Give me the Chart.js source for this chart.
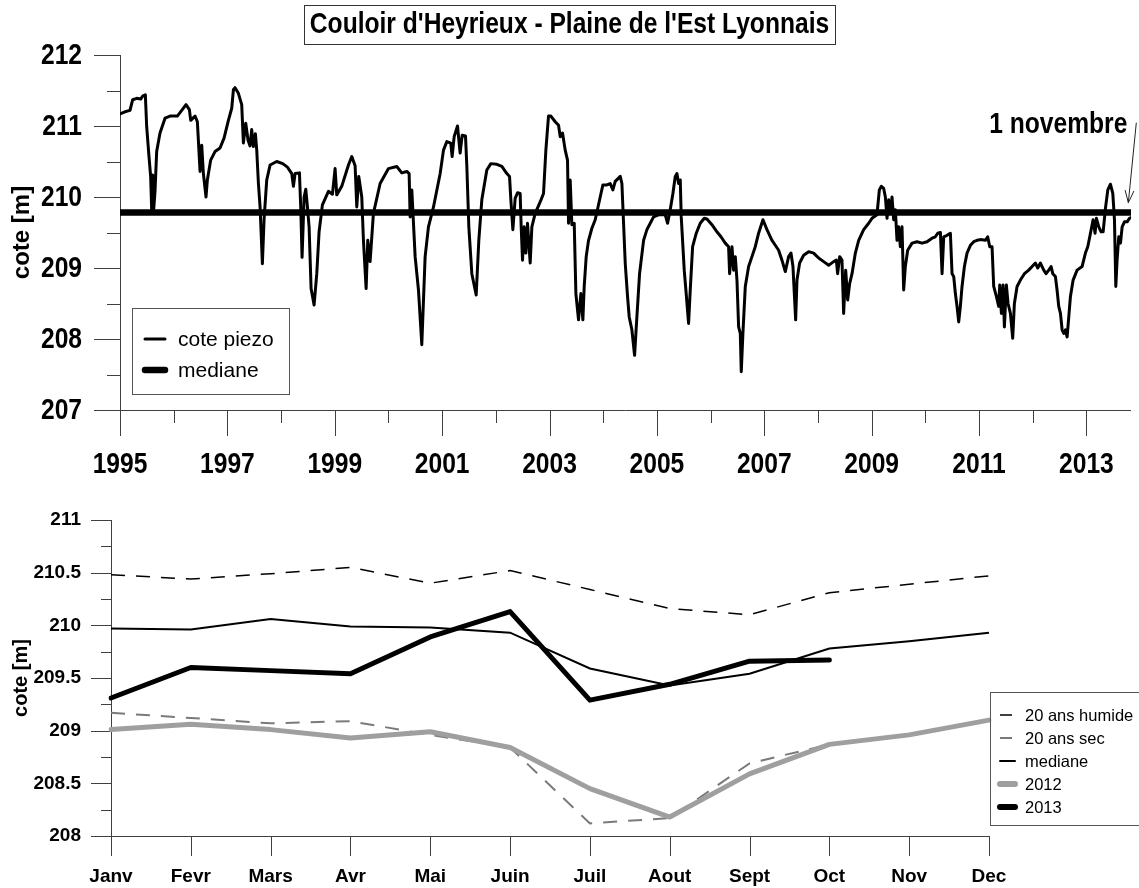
<!DOCTYPE html>
<html><head><meta charset="utf-8">
<script src="https://cdn.jsdelivr.net/npm/chart.js@4.4.1/dist/chart.umd.min.js"></script>
<style>
html,body{margin:0;padding:0;background:#fff;}
#wrap{position:relative;width:1139px;height:888px;overflow:hidden;background:#fff}
#c1{position:absolute;left:0;top:0}
#c2{position:absolute;left:0;top:490px}
</style></head><body>
<div id="wrap"><canvas id="c1" width="1139" height="490"></canvas><canvas id="c2" width="1139" height="398"></canvas></div>
<script>
// ---------------- DATA ----------------
const chartTitle = "Couloir d'Heyrieux - Plaine de l'Est Lyonnais";
const firstDate = 1995;
const lastDate = 2013.83;          // 1 novembre 2013
const medianLevel = 209.78;
const annotationText = '1 novembre';
const annotationPoint = {x: 2013.78, y: 209.92};

const piezoYears = [
1995.000,1995.093,1995.186,1995.236,1995.311,1995.385,1995.422,1995.472,1995.497,1995.540,1995.571,1995.590,1995.609,1995.627,1995.652,1995.683,1995.745,1995.839,1995.932,
1996.068,1996.149,1996.230,1996.292,1996.317,1996.398,1996.441,1996.466,1996.491,1996.522,1996.553,1996.602,1996.627,1996.689,1996.770,1996.863,1996.938,
1997.019,1997.081,1997.112,1997.143,1997.205,1997.267,1997.298,1997.342,1997.385,1997.422,1997.453,1997.484,1997.522,1997.547,1997.578,1997.609,1997.652,1997.683,1997.733,1997.795,1997.919,
1998.031,1998.118,1998.199,1998.230,1998.261,1998.342,1998.366,1998.391,1998.429,1998.460,1998.491,1998.522,1998.559,1998.615,1998.665,1998.708,1998.770,1998.882,1998.957,
1999.006,1999.037,1999.130,1999.255,1999.317,1999.379,1999.410,1999.447,1999.503,1999.534,1999.584,1999.615,1999.658,1999.720,1999.845,
2000.000,2000.155,2000.248,2000.342,2000.385,2000.404,2000.435,2000.497,2000.559,2000.621,2000.683,2000.745,2000.839,2000.963,
2001.025,2001.087,2001.161,2001.186,2001.224,2001.286,2001.335,2001.373,2001.435,2001.460,2001.497,2001.553,2001.634,2001.683,2001.739,2001.832,2001.907,
2002.019,2002.112,2002.205,2002.255,2002.280,2002.317,2002.360,2002.404,2002.453,2002.472,2002.497,2002.528,2002.559,2002.590,2002.640,2002.671,2002.733,2002.826,2002.888,2002.932,2002.981,
2003.025,2003.106,2003.168,2003.199,2003.242,2003.292,2003.335,2003.354,2003.385,2003.416,2003.460,2003.491,2003.540,2003.584,2003.621,2003.646,2003.683,2003.727,2003.789,2003.851,2003.944,2003.994,
2004.068,2004.130,2004.180,2004.224,2004.317,2004.348,2004.379,2004.410,2004.453,2004.484,2004.534,2004.584,2004.627,2004.677,2004.752,2004.814,2004.876,2004.938,
2005.031,2005.155,2005.199,2005.248,2005.298,2005.342,2005.373,2005.404,2005.435,2005.453,2005.478,2005.509,2005.540,2005.590,2005.621,2005.665,2005.733,2005.807,2005.882,2005.932,
2006.025,2006.118,2006.193,2006.273,2006.335,2006.354,2006.398,2006.429,2006.460,2006.491,2006.522,2006.553,2006.571,2006.602,2006.646,2006.708,2006.770,2006.832,2006.894,2006.975,
2007.050,2007.143,2007.205,2007.267,2007.329,2007.391,2007.453,2007.497,2007.534,2007.584,2007.609,2007.658,2007.733,2007.826,2007.919,
2008.012,2008.106,2008.199,2008.292,2008.342,2008.366,2008.404,2008.447,2008.478,2008.516,2008.553,2008.590,2008.634,2008.696,2008.758,2008.851,2008.944,
2009.006,2009.099,2009.143,2009.180,2009.224,2009.255,2009.286,2009.317,2009.348,2009.379,2009.410,2009.441,2009.472,2009.503,2009.534,2009.565,2009.596,2009.627,2009.671,2009.752,2009.845,2009.938,
2010.031,2010.124,2010.186,2010.230,2010.280,2010.311,2010.342,2010.404,2010.466,2010.497,2010.528,2010.559,2010.590,2010.621,2010.652,2010.683,2010.727,2010.776,2010.839,2010.901,2010.963,
2011.025,2011.118,2011.161,2011.199,2011.242,2011.273,2011.323,2011.366,2011.385,2011.416,2011.447,2011.472,2011.509,2011.540,2011.584,2011.627,2011.658,2011.708,2011.770,2011.845,2011.925,2011.988,
2012.050,2012.093,2012.143,2012.205,2012.248,2012.298,2012.342,2012.373,2012.422,2012.453,2012.484,2012.516,2012.547,2012.578,2012.609,2012.640,2012.671,2012.702,2012.752,2012.826,2012.919,2012.981,
2013.025,2013.075,2013.124,2013.161,2013.186,2013.230,2013.273,2013.311,2013.354,2013.398,2013.447,2013.491,2013.522,2013.547,2013.571,2013.602,2013.634,2013.665,2013.708,2013.758,2013.801,2013.830
];
const piezoLevels = [
211.17,211.20,211.22,211.37,211.39,211.38,211.42,211.44,210.99,210.57,210.29,209.82,210.31,209.82,210.08,210.64,210.90,211.11,211.14,
211.14,211.22,211.30,211.23,211.08,211.14,211.06,210.71,210.36,210.73,210.33,210.00,210.24,210.52,210.64,210.69,210.83,
211.08,211.25,211.51,211.54,211.46,211.30,210.76,211.04,210.80,210.72,210.95,210.71,210.89,210.66,210.19,209.86,209.06,209.68,210.24,210.45,210.50,
210.47,210.42,210.33,210.15,210.33,210.34,209.86,209.15,210.00,210.11,209.86,209.58,208.71,208.48,208.92,209.51,209.89,210.08,210.04,
210.40,210.03,210.15,210.45,210.57,210.44,209.86,210.29,210.00,209.39,208.71,209.39,209.09,209.77,210.19,
210.40,210.43,210.34,210.36,210.33,209.72,210.10,209.16,208.69,207.92,209.16,209.58,209.86,210.33,
210.66,210.78,210.76,210.57,210.85,211.00,210.62,210.87,210.86,210.43,209.58,208.92,208.62,209.39,209.96,210.38,210.47,
210.46,210.43,210.33,210.29,209.96,209.54,209.98,210.06,210.05,209.58,209.11,209.58,209.21,209.63,209.07,209.58,209.77,209.93,210.05,210.66,211.14,
211.14,211.06,211.01,210.85,210.90,210.66,210.52,209.63,210.24,209.61,209.63,208.64,208.27,208.64,208.27,208.74,209.16,209.39,209.56,209.68,210.00,210.17,
210.17,210.19,210.10,210.22,210.29,210.19,209.63,209.07,208.60,208.31,208.13,207.77,208.31,208.92,209.39,209.54,209.63,209.72,
209.75,209.75,209.63,209.82,210.05,210.29,210.33,210.19,210.24,209.72,209.39,208.97,208.69,208.22,208.69,209.30,209.49,209.63,209.70,209.69,
209.61,209.51,209.44,209.35,209.30,208.92,209.30,208.97,209.16,208.83,208.17,208.08,207.54,208.08,208.74,209.02,209.16,209.30,209.49,209.68,
209.54,209.39,209.32,209.25,209.11,208.95,209.16,209.21,209.02,208.27,208.83,209.07,209.18,209.23,209.21,
209.14,209.09,209.04,209.09,209.11,208.92,209.16,209.11,208.36,208.97,208.55,208.78,208.92,209.21,209.39,209.54,209.63,
209.70,209.75,210.10,210.15,210.12,210.00,209.70,209.96,209.77,210.00,209.68,209.82,209.39,209.58,209.30,209.58,208.69,209.02,209.25,209.35,209.37,209.35,
209.37,209.42,209.44,209.49,209.50,208.92,209.44,209.46,209.49,208.92,208.88,208.64,208.46,208.24,208.46,208.74,209.02,209.21,209.32,209.37,209.39,
209.40,209.39,209.44,209.30,209.30,208.74,208.60,208.46,208.76,208.36,208.76,208.17,208.76,208.50,208.36,208.01,208.50,208.74,208.83,208.92,208.97,209.02,
209.07,209.00,209.07,208.97,208.92,208.97,209.02,208.92,208.88,208.69,208.46,208.36,208.13,208.08,208.13,208.03,208.31,208.60,208.83,208.97,209.02,209.21,
209.30,209.49,209.68,209.49,209.70,209.58,209.51,209.51,209.84,210.10,210.18,210.05,209.68,208.74,209.11,209.44,209.35,209.58,209.65,209.65,209.70,209.71
];

const months = ['Janv','Fevr','Mars','Avr','Mai','Juin','Juil','Aout','Sept','Oct','Nov','Dec'];
const humide20 = [210.48,210.44,210.49,210.55,210.40,210.52,210.34,210.16,210.10,210.31,210.39,210.47];
const sec20    = [209.17,209.12,209.07,209.09,208.96,208.84,208.12,208.17,208.69,208.87,208.96,209.10];
const medianeMois = [209.97,209.96,210.06,209.99,209.98,209.93,209.59,209.43,209.54,209.78,209.85,209.93];
const annee2012 = [209.01,209.06,209.01,208.93,208.99,208.84,208.45,208.18,208.59,208.87,208.96,209.10];
const annee2013 = [209.31,209.60,209.57,209.54,209.89,210.13,209.29,209.44,209.66,209.67,null,null];

// ---------------- FONTS ----------------
function fontExists(name){
  const c=document.createElement('canvas').getContext('2d');
  const s='mmmmmmmmmmlllllliiiiiWW0123456789';
  let diff=false;
  ['monospace','serif'].forEach(f=>{
    c.font='40px '+f; const a=c.measureText(s).width;
    c.font='40px "'+name+'", '+f; const b=c.measureText(s).width;
    if (Math.abs(a-b)>0.5) diff=true;
  });
  return diff;
}
const SANS = '"Liberation Sans", Arial, Helvetica, sans-serif';
let NARROW = SANS, SQUEEZE = 0.82;
if (fontExists('Liberation Sans Narrow')) { NARROW = '"Liberation Sans Narrow", ' + SANS; SQUEEZE = 1; }
else if (fontExists('Arial Narrow')) { NARROW = '"Arial Narrow", ' + SANS; SQUEEZE = 1; }
const AXIS_COLOR = '#404040';
const HIDDEN = 'rgba(0,0,0,0)';

// condensed bold text (Arial Narrow look)
function narrowText(ctx, text, x, y, align, size) {
  ctx.save();
  ctx.font = 'bold ' + size + 'px ' + NARROW;
  ctx.fillStyle = '#000';
  ctx.textBaseline = 'middle';
  ctx.textAlign = align;
  ctx.translate(x, y);
  ctx.scale(SQUEEZE, 1);
  ctx.fillText(text, 0, 0);
  const w = ctx.measureText(text).width * SQUEEZE;
  ctx.restore();
  return w;
}

// ---------------- PLUGINS ----------------
const axesPlugin = {
  id: 'axesDraw',
  beforeDatasetsDraw(chart, args, o) {
    const {ctx, chartArea: a, scales: {x, y}} = chart;
    ctx.save();
    ctx.strokeStyle = AXIS_COLOR; ctx.lineWidth = 1;
    ctx.beginPath();
    ctx.moveTo(a.left + 0.5, a.top); ctx.lineTo(a.left + 0.5, a.bottom + 0.5);
    ctx.moveTo(a.left, a.bottom + 0.5); ctx.lineTo(a.right, a.bottom + 0.5);
    y.ticks.forEach(t => {
      const p = Math.round(y.getPixelForValue(t.value)) + 0.5;
      const len = o.yMajor(t.value) ? o.yMajorLen : o.yMinorLen;
      ctx.moveTo(a.left - len, p); ctx.lineTo(a.left, p);
    });
    x.ticks.forEach((t, i) => {
      if (!o.xKeep(t.value)) return;
      const p = Math.round(x.getPixelForTick(i)) + 0.5;
      const len = o.xMajor(t.value) ? o.xMajorLen : o.xMinorLen;
      ctx.moveTo(p, a.bottom); ctx.lineTo(p, a.bottom + len);
    });
    ctx.stroke();
    ctx.restore();
  }
};

const topDecor = {
  id: 'topDecor',
  afterDraw(chart) {
    const {ctx, chartArea: a, scales: {x, y}} = chart;
    ctx.save();
    // tick labels (condensed bold)
    x.ticks.forEach((t, i) => {
      if (t.label) narrowText(ctx, t.label, x.getPixelForTick(i), a.bottom + 55, 'center', 30);
    });
    y.ticks.forEach((t, i) => {
      if (t.label) narrowText(ctx, t.label, a.left - 38, y.getPixelForTick(i) + 1, 'right', 30);
    });

    // title with frame
    const cx = chart.width / 2;
    const tw = narrowText(ctx, chartTitle, cx, 25, 'center', 30);
    ctx.strokeStyle = '#333'; ctx.lineWidth = 1;
    ctx.strokeRect(Math.round(cx - tw / 2 - 6) + 0.5, 5.5, Math.round(tw + 12), 39);

    // legend
    const lx = a.left + 12, ly = a.bottom - 102;
    ctx.strokeStyle = '#555';
    ctx.strokeRect(lx + 0.5, ly + 0.5, 157, 86);
    ctx.font = '21px ' + SANS; ctx.textAlign = 'left'; ctx.textBaseline = 'middle';
    chart.data.datasets.forEach((ds, i) => {
      const yy = ly + 31 + i * 31;
      ctx.strokeStyle = ds.borderColor; ctx.lineWidth = ds.borderWidth; ctx.lineCap = 'round';
      ctx.beginPath(); ctx.moveTo(lx + 13, yy); ctx.lineTo(lx + 33, yy); ctx.stroke();
      ctx.fillStyle = '#000'; ctx.fillText(ds.label, lx + 46, yy + 1);
    });

    // annotation
    const tx = x.getPixelForValue(annotationPoint.x), ty = y.getPixelForValue(annotationPoint.y);
    const sx = tx + 8, sy = ty - 80;
    ctx.strokeStyle = '#222'; ctx.lineWidth = 1; ctx.lineCap = 'butt';
    ctx.beginPath(); ctx.moveTo(sx, sy); ctx.lineTo(tx, ty);
    const ang = Math.atan2(ty - sy, tx - sx);
    [0.35, -0.35].forEach(d => {
      ctx.moveTo(tx, ty); ctx.lineTo(tx - 13 * Math.cos(ang + d), ty - 13 * Math.sin(ang + d));
    });
    ctx.stroke();
    narrowText(ctx, annotationText, tx - 1, ty - 78, 'right', 30);
    ctx.restore();
  }
};

const bottomDecor = {
  id: 'bottomDecor',
  afterDraw(chart) {
    const {ctx, chartArea: a} = chart;
    ctx.save();
    const bx = a.right + 1, by = a.top + 172;
    ctx.strokeStyle = '#555'; ctx.lineWidth = 1;
    ctx.strokeRect(bx + 0.5, by + 0.5, 170, 133);
    ctx.font = '16.5px ' + SANS; ctx.textAlign = 'left'; ctx.textBaseline = 'middle';
    chart.data.datasets.forEach((ds, i) => {
      const yy = by + 23 + i * 23;
      ctx.strokeStyle = ds.borderColor;
      ctx.setLineDash([]);
      ctx.beginPath();
      if (ds.borderDash) { ctx.lineWidth = ds.borderWidth; ctx.lineCap = 'butt'; ctx.moveTo(bx + 10, yy); ctx.lineTo(bx + 22, yy); }
      else { ctx.lineWidth = ds.borderWidth > 3 ? 6 : ds.borderWidth; ctx.lineCap = 'round'; ctx.moveTo(bx + 10, yy); ctx.lineTo(bx + 25, yy); }
      ctx.stroke();
      ctx.fillStyle = '#000'; ctx.fillText(ds.label, bx + 35, yy + 1);
    });
    ctx.restore();
  }
};

const hiddenGrid = (len) => ({ display: true, drawOnChartArea: false, drawTicks: true, tickLength: len,
  color: HIDDEN, tickColor: HIDDEN, lineWidth: 0 });

// ---------------- TOP CHART ----------------
new Chart(document.getElementById('c1'), {
  type: 'line',
  data: { datasets: [
    { label: 'cote piezo', data: piezoYears.map((t, i) => ({x: t, y: piezoLevels[i]})),
      borderColor: '#000', borderWidth: 3, pointRadius: 0, tension: 0,
      borderJoinStyle: 'round', borderCapStyle: 'round', order: 1 },
    { label: 'mediane', data: [{x: firstDate, y: medianLevel}, {x: lastDate, y: medianLevel}],
      borderColor: '#000', borderWidth: 6.5, pointRadius: 0, tension: 0, borderCapStyle: 'round', order: 0 }
  ]},
  options: {
    responsive: false, animation: false, events: [],
    layout: { padding: { left: 0, top: 55, right: 8, bottom: 0 } },
    plugins: {
      legend: { display: false }, tooltip: { enabled: false },
      axesDraw: {
        yMajor: v => Number.isInteger(v), yMajorLen: 26, yMinorLen: 13,
        xKeep: v => Number.isInteger(v), xMajor: v => v % 2 === 1, xMajorLen: 26, xMinorLen: 13
      }
    },
    scales: {
      x: { type: 'linear', min: firstDate, max: lastDate,
        grid: { display: false, drawTicks: false, tickLength: 0 }, border: { display: false },
        ticks: { display: false, stepSize: 1, includeBounds: false, autoSkip: false, maxRotation: 0, minRotation: 0,
          callback: v => (Number.isInteger(v) && v % 2 === 1) ? String(v) : '' },
        afterFit: s => { s.height = 80; } },
      y: { min: 207, max: 212,
        grid: { display: false, drawTicks: false, tickLength: 0 }, border: { display: false },
        ticks: { display: false, stepSize: 0.5, autoSkip: false,
          callback: v => Number.isInteger(v) ? String(v) : '' },
        title: { display: true, text: 'cote [m]', color: '#000', padding: { top: 8, bottom: 0 },
          font: { family: SANS, size: 24, weight: 'bold' } },
        afterFit: s => { s.width = 120; } }
    }
  },
  plugins: [axesPlugin, topDecor]
});

// ---------------- BOTTOM CHART ----------------
new Chart(document.getElementById('c2'), {
  type: 'line',
  data: { labels: months, datasets: [
    { label: '20 ans humide', data: humide20, borderColor: '#000', borderWidth: 1.5, borderDash: [14, 11], pointRadius: 0, tension: 0, order: 3 },
    { label: '20 ans sec', data: sec20, borderColor: '#7a7a7a', borderWidth: 2, borderDash: [14, 11], pointRadius: 0, tension: 0, order: 4 },
    { label: 'mediane', data: medianeMois, borderColor: '#000', borderWidth: 2, pointRadius: 0, tension: 0, order: 2 },
    { label: '2012', data: annee2012, borderColor: '#9f9f9f', borderWidth: 5, pointRadius: 0, tension: 0, borderCapStyle: 'round', borderJoinStyle: 'round', order: 1 },
    { label: '2013', data: annee2013, borderColor: '#000', borderWidth: 5, pointRadius: 0, tension: 0, borderCapStyle: 'round', borderJoinStyle: 'round', order: 0 }
  ]},
  options: {
    responsive: false, animation: false, events: [],
    layout: { padding: { left: 0, top: 30, right: 150, bottom: 0 } },
    plugins: {
      legend: { display: false }, tooltip: { enabled: false },
      axesDraw: {
        yMajor: v => Math.abs(v * 2 - Math.round(v * 2)) < 1e-6, yMajorLen: 20, yMinorLen: 10,
        xKeep: v => true, xMajor: v => true, xMajorLen: 20, xMinorLen: 20
      }
    },
    scales: {
      x: { type: 'category', offset: false,
        grid: hiddenGrid(29), border: { display: false },
        ticks: { autoSkip: false, maxRotation: 0, minRotation: 0, padding: 0, color: '#000',
          font: { family: SANS, size: 19, weight: 'bold' } },
        afterFit: s => { s.height = 52; } },
      y: { min: 208, max: 211,
        grid: hiddenGrid(30), border: { display: false },
        ticks: { stepSize: 0.25, autoSkip: false, padding: 0, color: '#000',
          font: { family: SANS, size: 19, weight: 'bold' },
          callback: v => Math.abs(v * 2 - Math.round(v * 2)) < 1e-6 ? String(v) : '' },
        title: { display: true, text: 'cote [m]', color: '#000', padding: { top: 9, bottom: 0 },
          font: { family: SANS, size: 20, weight: 'bold' } },
        afterFit: s => { s.width = 111; } }
    }
  },
  plugins: [axesPlugin, bottomDecor]
});
</script>
</body></html>
